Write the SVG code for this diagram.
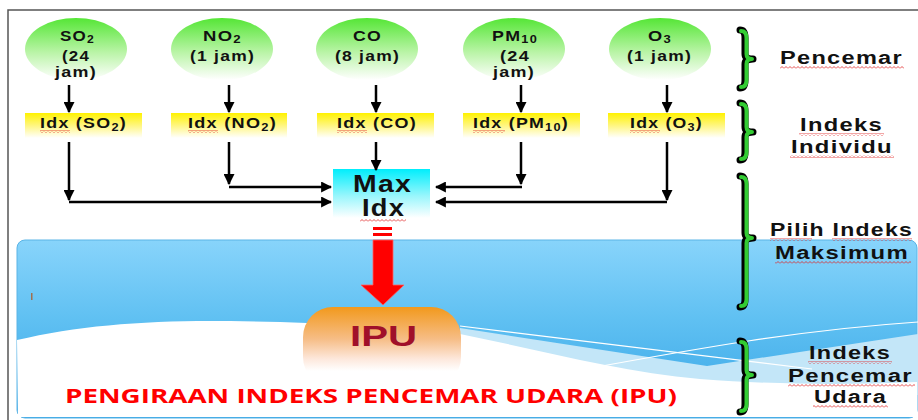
<svg xmlns="http://www.w3.org/2000/svg" width="918" height="420" viewBox="0 0 918 420">
<defs>
<linearGradient id="gGreen" x1="0" y1="0" x2="0" y2="1">
<stop offset="0" stop-color="#55e636"/><stop offset="0.55" stop-color="#b9f4a6"/><stop offset="1" stop-color="#ffffff"/>
</linearGradient>
<linearGradient id="gYellow" x1="0" y1="0" x2="0" y2="1">
<stop offset="0" stop-color="#fff200"/><stop offset="0.5" stop-color="#fff680"/><stop offset="1" stop-color="#ffffff"/>
</linearGradient>
<linearGradient id="gCyan" x1="0" y1="0" x2="0" y2="1">
<stop offset="0" stop-color="#00eefc"/><stop offset="0.55" stop-color="#99f6fc"/><stop offset="1" stop-color="#ffffff"/>
</linearGradient>
<linearGradient id="gBlue" x1="0" y1="0" x2="0" y2="1">
<stop offset="0" stop-color="#88d4fb"/><stop offset="0.45" stop-color="#5fc0f2"/><stop offset="1" stop-color="#37a5e6"/>
</linearGradient>
<linearGradient id="gOrange" x1="0" y1="0" x2="0" y2="1">
<stop offset="0" stop-color="#f2991c"/><stop offset="0.4" stop-color="#f6bd86"/><stop offset="0.65" stop-color="#fde8dc"/><stop offset="0.8" stop-color="#ffffff"/>
</linearGradient>
<marker id="ah" viewBox="0 0 10 10" refX="9" refY="5" markerWidth="4.4" markerHeight="4.4" markerUnits="strokeWidth" orient="auto">
<path d="M0,0 L10,5 L0,10 Z" fill="#000"/>
</marker>
<pattern id="sq" width="4" height="3" patternUnits="userSpaceOnUse">
<path d="M0,2.5 L2,0.5 L4,2.5" fill="none" stroke="#e02020" stroke-width="0.8"/>
</pattern>
</defs>
<style>
.t{font-family:"Liberation Sans",Arial,sans-serif;font-weight:bold;fill:#111;letter-spacing:1px;}
.s14{font-size:14px;}
.s17{font-size:18px;}
.conn{stroke:#000;stroke-width:2.5;fill:none;}
.sq{fill:url(#sq);}
.brB{fill:none;stroke:#000;stroke-width:7;stroke-linecap:round;stroke-linejoin:round;}
.brG{fill:none;stroke:#33cc33;stroke-width:4;stroke-linecap:round;stroke-linejoin:round;}
</style>

<!-- frame -->
<path d="M8,420 L8,10 L918,10" fill="none" stroke="#555" stroke-width="1.5"/>

<!-- blue panel -->
<g id="panel">
<rect x="17" y="240" width="900" height="178" rx="8" fill="url(#gBlue)" stroke="#5ab4e6" stroke-width="1"/>
<path d="M460,328 L707,366 L918,334 L918,395 L460,395 Z" fill="#c3e6f8"/>
<path d="M17,340 C80,325 150,320 230,321 C300,322 400,325 460,334 C540,350 620,372 700,379 C780,385 850,385 917,382 L917,417 L18,417 Z" fill="#ffffff"/>
<path d="M460,326 L812,369" stroke="#ffffff" stroke-width="1.2" fill="none"/>
<path d="M580,370 C700,348 800,330 918,322" stroke="#ffffff" stroke-width="1.2" fill="none"/>
<rect x="31" y="293" width="1.5" height="7" fill="#a07050"/>
</g>

<!-- pollutant nodes -->
<g id="n-so2">
<ellipse cx="76" cy="49" rx="51" ry="31" fill="url(#gGreen)"/>
<text class="t s14" x="60" y="41" textLength="35" lengthAdjust="spacingAndGlyphs">SO<tspan font-size="10" dy="2">2</tspan></text>
<text class="t s14" x="62" y="61" textLength="28" lengthAdjust="spacingAndGlyphs">(24</text>
<text class="t s14" x="55" y="77" textLength="42" lengthAdjust="spacingAndGlyphs">jam)</text>
</g>
<g id="n-no2">
<ellipse cx="222" cy="49" rx="51" ry="31" fill="url(#gGreen)"/>
<text class="t s14" x="203" y="41" textLength="39" lengthAdjust="spacingAndGlyphs">NO<tspan font-size="10" dy="2">2</tspan></text>
<text class="t s14" x="190" y="61" textLength="65" lengthAdjust="spacingAndGlyphs">(1 jam)</text>
</g>
<g id="n-co">
<ellipse cx="367" cy="49" rx="51" ry="31" fill="url(#gGreen)"/>
<text class="t s14" x="353" y="41" textLength="29" lengthAdjust="spacingAndGlyphs">CO</text>
<text class="t s14" x="335" y="61" textLength="65" lengthAdjust="spacingAndGlyphs">(8 jam)</text>
</g>
<g id="n-pm10">
<ellipse cx="514" cy="49" rx="51" ry="31" fill="url(#gGreen)"/>
<text class="t s14" x="492" y="41" textLength="46" lengthAdjust="spacingAndGlyphs">PM<tspan font-size="10" dy="2">10</tspan></text>
<text class="t s14" x="500" y="61" textLength="30" lengthAdjust="spacingAndGlyphs">(24</text>
<text class="t s14" x="493" y="77" textLength="42" lengthAdjust="spacingAndGlyphs">jam)</text>
</g>
<g id="n-o3">
<ellipse cx="660" cy="49" rx="51" ry="31" fill="url(#gGreen)"/>
<text class="t s14" x="648" y="41" textLength="24" lengthAdjust="spacingAndGlyphs">O<tspan font-size="10" dy="2">3</tspan></text>
<text class="t s14" x="627" y="61" textLength="65" lengthAdjust="spacingAndGlyphs">(1 jam)</text>
</g>

<!-- index nodes -->
<g id="i-so2">
<rect x="25" y="113" width="117" height="25" fill="url(#gYellow)"/>
<text class="t s14" x="40" y="128" textLength="87" lengthAdjust="spacingAndGlyphs">Idx (SO<tspan font-size="10" dy="3">2</tspan><tspan dy="-3">)</tspan></text>
<rect class="sq" x="40" y="130" width="30" height="3"/>
</g>
<g id="i-no2">
<rect x="171" y="113" width="116" height="25" fill="url(#gYellow)"/>
<text class="t s14" x="188" y="128" textLength="89" lengthAdjust="spacingAndGlyphs">Idx (NO<tspan font-size="10" dy="3">2</tspan><tspan dy="-3">)</tspan></text>
<rect class="sq" x="188" y="130" width="30" height="3"/>
</g>
<g id="i-co">
<rect x="317" y="113" width="117" height="25" fill="url(#gYellow)"/>
<text class="t s14" x="337" y="128" textLength="80" lengthAdjust="spacingAndGlyphs">Idx (CO)</text>
<rect class="sq" x="337" y="130" width="30" height="3"/>
</g>
<g id="i-pm10">
<rect x="463" y="113" width="117" height="25" fill="url(#gYellow)"/>
<text class="t s14" x="473" y="128" textLength="96" lengthAdjust="spacingAndGlyphs">Idx (PM<tspan font-size="10" dy="3">10</tspan><tspan dy="-3">)</tspan></text>
<rect class="sq" x="473" y="130" width="32" height="3"/>
</g>
<g id="i-o3">
<rect x="608" y="113" width="117" height="25" fill="url(#gYellow)"/>
<text class="t s14" x="630" y="128" textLength="73" lengthAdjust="spacingAndGlyphs">Idx (O<tspan font-size="10" dy="3">3</tspan><tspan dy="-3">)</tspan></text>
<rect class="sq" x="630" y="130" width="30" height="3"/>
</g>

<!-- max node -->
<g id="max">
<rect x="333" y="169" width="97" height="49" fill="url(#gCyan)"/>
<text class="t" font-size="23" x="353" y="192" textLength="59" lengthAdjust="spacingAndGlyphs">Max</text>
<text class="t" font-size="23" x="362" y="216" textLength="43" lengthAdjust="spacingAndGlyphs">Idx</text>
<rect class="sq" x="360" y="219" width="46" height="3"/>
</g>

<!-- IPU node -->
<g id="ipu">
<rect x="303" y="307" width="158" height="80" rx="30" fill="url(#gOrange)"/>
<text font-family="Liberation Sans,Arial,sans-serif" font-weight="bold" font-size="30" fill="#a0102a" x="350" y="346" textLength="67" lengthAdjust="spacingAndGlyphs">IPU</text>
</g>

<!-- connectors -->
<g id="connectors">
<path class="conn" d="M69,85 L69,112" marker-end="url(#ah)"/>
<path class="conn" d="M229,85 L229,112" marker-end="url(#ah)"/>
<path class="conn" d="M376,85 L376,112" marker-end="url(#ah)"/>
<path class="conn" d="M521,85 L521,112" marker-end="url(#ah)"/>
<path class="conn" d="M667,85 L667,112" marker-end="url(#ah)"/>

<path class="conn" d="M69,142 L69,200" marker-end="url(#ah)"/>
<path class="conn" d="M69,202 L331,202" marker-end="url(#ah)"/>
<path class="conn" d="M229,142 L229,184" marker-end="url(#ah)"/>
<path class="conn" d="M229,187 L331,187" marker-end="url(#ah)"/>
<path class="conn" d="M376,142 L376,170" marker-end="url(#ah)"/>
<path class="conn" d="M521,142 L521,184" marker-end="url(#ah)"/>
<path class="conn" d="M522,187 L436,187" marker-end="url(#ah)"/>
<path class="conn" d="M667,142 L667,200" marker-end="url(#ah)"/>
<path class="conn" d="M667,202 L436,202" marker-end="url(#ah)"/>

<rect x="373" y="227" width="19" height="3" fill="#ff0000"/>
<rect x="373" y="233" width="19" height="3" fill="#ff0000"/>
<path d="M373,240 L393,240 L393,285 L404,285 L383,305 L361,285 L373,285 Z" fill="#ff0000" stroke="#ff6060" stroke-width="0.8"/>
</g>

<!-- title -->
<text font-family="Open Sans,Liberation Sans,sans-serif" font-weight="bold" font-size="19" fill="#ff0000" x="65" y="403" textLength="612" lengthAdjust="spacingAndGlyphs">PENGIRAAN INDEKS PENCEMAR UDARA (IPU)</text>

<!-- braces and labels -->
<g id="b-pencemar">
<path class="brB" d="M740,30 Q745,30 745,38 L745,54 Q745,59 753,59 Q745,59 745,64 L745,80 Q745,88 740,88"/>
<path class="brG" d="M741,31 Q746.5,31 746.5,38 L746.5,54 Q746.5,59 752,59 Q746.5,59 746.5,64 L746.5,80 Q746.5,87 741,87"/>
<text class="t s17" x="780" y="64" textLength="123" lengthAdjust="spacingAndGlyphs">Pencemar</text>
<rect class="sq" x="780" y="66" width="124" height="3"/>
</g>
<g id="b-individu">
<path class="brB" d="M740,103 Q745,103 745,111 L745,127 Q745,132 753,132 Q745,132 745,137 L745,152 Q745,160 740,160"/>
<path class="brG" d="M741,104 Q746.5,104 746.5,111 L746.5,127 Q746.5,132 752,132 Q746.5,132 746.5,137 L746.5,152 Q746.5,159 741,159"/>
<text class="t s17" x="800" y="131" textLength="83" lengthAdjust="spacingAndGlyphs">Indeks</text>
<text class="t s17" x="791" y="153" textLength="102" lengthAdjust="spacingAndGlyphs">Individu</text>
<rect class="sq" x="799" y="133" width="85" height="3"/>
<rect class="sq" x="790" y="155" width="104" height="3"/>
</g>
<g id="b-maks">
<path class="brB" d="M740,176 Q745,176 745,184 L745,233 Q745,238 753,238 Q745,238 745,243 L745,299 Q745,307 740,307"/>
<path class="brG" d="M741,177 Q746.5,177 746.5,184 L746.5,233 Q746.5,238 752,238 Q746.5,238 746.5,243 L746.5,299 Q746.5,306 741,306"/>
<text class="t s17" x="770" y="236" textLength="143" lengthAdjust="spacingAndGlyphs">Pilih Indeks</text>
<text class="t s17" x="775" y="259" textLength="134" lengthAdjust="spacingAndGlyphs">Maksimum</text>
<rect class="sq" x="770" y="238" width="42" height="3"/>
<rect class="sq" x="832" y="238" width="80" height="3"/>
<rect class="sq" x="775" y="261" width="136" height="3"/>
</g>
<g id="b-ipu">
<path class="brB" d="M740,341 Q745,341 745,349 L745,370 Q745,375 753,375 Q745,375 745,380 L745,404 Q745,412 740,412"/>
<path class="brG" d="M741,342 Q746.5,342 746.5,349 L746.5,370 Q746.5,375 752,375 Q746.5,375 746.5,380 L746.5,404 Q746.5,411 741,411"/>
<text class="t s17" x="809" y="359" textLength="82" lengthAdjust="spacingAndGlyphs">Indeks</text>
<text class="t s17" x="788" y="382" textLength="125" lengthAdjust="spacingAndGlyphs">Pencemar</text>
<text class="t s17" x="814" y="403" textLength="73" lengthAdjust="spacingAndGlyphs">Udara</text>
<rect class="sq" x="808" y="361" width="84" height="3"/>
<rect class="sq" x="788" y="384" width="127" height="3"/>
<rect class="sq" x="813" y="405" width="75" height="3"/>
</g>
</svg>
